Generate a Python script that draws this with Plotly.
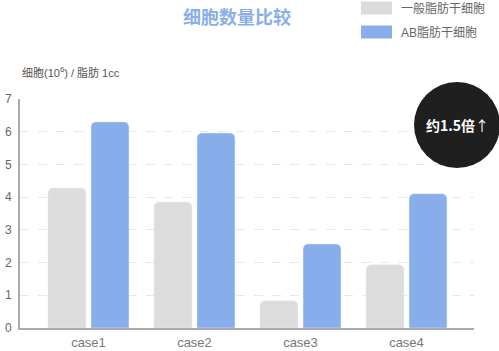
import plotly.graph_objects as go

categories = ["case1", "case2", "case3", "case4"]
normal_vals = [4.28, 3.85, 0.83, 1.93]
ab_vals = [6.30, 5.96, 2.57, 4.10]
series_names = ["一般脂肪干细胞", "AB脂肪干细胞"]
y_ticks = [0, 1, 2, 3, 4, 5, 6, 7]

GRAY = "#dcdcdc"
BLUE = "#87adeb"
FONT = "Liberation Sans, Noto Sans CJK SC, sans-serif"
CJK = "Noto Sans CJK SC, sans-serif"

xpos = list(range(len(categories)))
BW = 0.358

fig = go.Figure()
fig.add_trace(go.Bar(x=xpos, y=normal_vals, name=series_names[0], marker_color=GRAY,
                     width=BW, offset=-0.382, showlegend=False))
fig.add_trace(go.Bar(x=xpos, y=ab_vals, name=series_names[1], marker_color=BLUE,
                     width=BW, offset=0.024, showlegend=False))

shapes = []
annotations = []
# custom legend
for i, (nm, col) in enumerate(zip(series_names, [GRAY, BLUE])):
    cy = 8 + 24 * i
    shapes.append(dict(type="rect", xref="paper", yref="paper", xsizemode="pixel", ysizemode="pixel",
                       xanchor=(376.5 - 20) / 454, yanchor=(328 - cy) / 229, x0=-15.5, x1=15.5, y0=-6.5, y1=6.5,
                       fillcolor=col, line_width=0, layer="above"))
    annotations.append(dict(text=nm, xref="paper", yref="paper", x=(399 - 20) / 454, y=(328 - cy) / 229,
                            xanchor="left", yanchor="middle", showarrow=False,
                            font=dict(size=12, color="#666666", family=FONT)))

# badge circle
shapes.append(dict(type="circle", xref="paper", yref="paper", xsizemode="pixel", ysizemode="pixel",
                   xanchor=(457 - 20) / 454, yanchor=(328 - 125) / 229, x0=-43, x1=43, y0=-43, y1=43,
                   fillcolor="#1f1f1f", line_width=0, layer="above"))
annotations.append(dict(text="<b>约1.5倍</b>↑", xref="paper", yref="paper", x=(457 - 20) / 454,
                        y=(328 - 125) / 229, xanchor="center", yanchor="middle", showarrow=False,
                        font=dict(size=14, color="white", family=CJK)))
# y unit label
annotations.append(dict(text="细胞(10<sup>6</sup>) / 脂肪 1cc", xref="paper", yref="paper", x=0,
                        y=(328 - 72) / 229, xanchor="left", yanchor="middle", showarrow=False,
                        font=dict(size=11, color="#555555", family=FONT)))

fig.update_layout(
    width=499, height=351,
    margin=dict(l=20, r=25, t=99, b=23, autoexpand=False),
    paper_bgcolor="white", plot_bgcolor="white",
    barcornerradius=5,
    title=dict(text="<b>细胞数量比较</b>", x=237 / 499, xanchor="center", y=1 - 18 / 351, yanchor="middle",
               font=dict(size=18, color="#8aaee8", family=CJK)),
    shapes=shapes, annotations=annotations,
    font=dict(family=FONT),
)
fig.update_xaxes(range=[-0.646, 3.637], tickvals=xpos, ticktext=categories, showgrid=False,
                 showline=True, linecolor="#aaaaaa", linewidth=2, ticks="", zeroline=False,
                 automargin=False, ticklabelstandoff=1,
                 tickfont=dict(size=13, color="#777777"), fixedrange=True)
fig.update_yaxes(range=[0, 7], tickvals=y_ticks, showgrid=True, gridcolor="#e8e8e8", griddash="dash",
                 gridwidth=1, showline=True, linecolor="#aaaaaa", linewidth=2, zeroline=False, ticks="",
                 automargin=False,
                 tickfont=dict(size=12, color="#666666"), ticklabelstandoff=4, fixedrange=True)

fig.write_html("out.html")
